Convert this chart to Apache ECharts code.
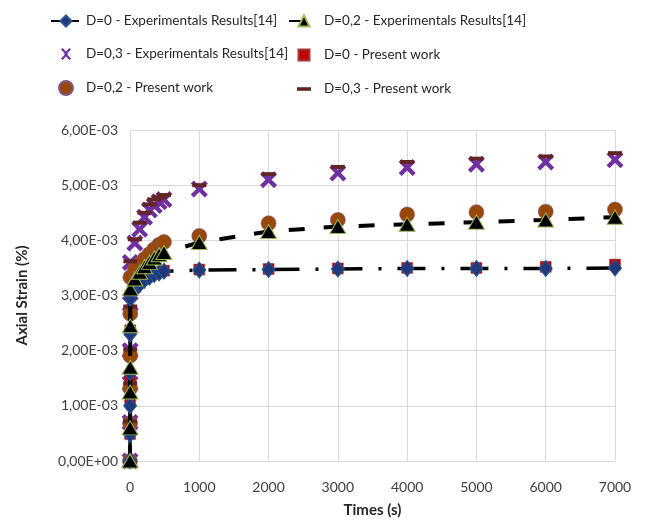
<!DOCTYPE html>
<html>
<head>
<meta charset="utf-8">
<script src="https://cdn.jsdelivr.net/npm/echarts@6/dist/echarts.min.js"></script>
<style>
  html, body { margin: 0; padding: 0; background: #fff; }
  #chart { width: 646px; height: 523px; }
</style>
</head>
<body>
<div id="chart"></div>
<script>
// times (s) and axial strain values
const timesD0Exp = [0, 1, 2, 3, 4, 5, 70, 140, 210, 280, 350, 420, 490, 1000, 2000, 3000, 4000, 5000, 6000, 7000]
const strainD0Exp = [0, 0.00048, 0.001, 0.0016, 0.0023, 0.00295, 0.0031, 0.0032, 0.00328, 0.00333, 0.00338, 0.00341, 0.00344, 0.00346, 0.00347, 0.00348, 0.00349, 0.00349, 0.00349, 0.0035]

const timesD02Exp = [0, 1, 2, 3, 4, 5, 70, 140, 210, 280, 350, 420, 490, 1000, 2000, 3000, 4000, 5000, 6000, 7000]
const strainD02Exp = [0, 0.0006, 0.00125, 0.0017, 0.00245, 0.00312, 0.0033, 0.00342, 0.00352, 0.0036, 0.00368, 0.00374, 0.00378, 0.00396, 0.00416, 0.00425, 0.00429, 0.00433, 0.00437, 0.00442]

const timesD03Exp = [0, 1, 2, 3, 4, 5, 70, 140, 210, 280, 350, 420, 490, 1000, 2000, 3000, 4000, 5000, 6000, 7000]
const strainD03Exp = [0, 0.0007, 0.0014, 0.002, 0.00285, 0.0036, 0.00395, 0.0042, 0.00442, 0.00455, 0.00463, 0.0047, 0.00474, 0.00493, 0.0051, 0.00522, 0.00532, 0.00538, 0.00542, 0.00546]

const timesD0Pres = [0, 1, 2, 3, 4, 5, 70, 140, 210, 280, 350, 420, 490, 1000, 2000, 3000, 4000, 5000, 6000, 7000]
const strainD0Pres = [0, 0.00049, 0.0011, 0.00155, 0.00237, 0.003, 0.00315, 0.00323, 0.0033, 0.00335, 0.0034, 0.00343, 0.00345, 0.00347, 0.00348, 0.00349, 0.0035, 0.0035, 0.00352, 0.00356]

const timesD02Pres = [0, 1, 2, 3, 4, 5, 70, 140, 210, 280, 350, 420, 490, 1000, 2000, 3000, 4000, 5000, 6000, 7000]
const strainD02Pres = [0, 0.00068, 0.00132, 0.00191, 0.00267, 0.00333, 0.00348, 0.00357, 0.00366, 0.00375, 0.00384, 0.00392, 0.00397, 0.00408, 0.00431, 0.00437, 0.00447, 0.00451, 0.00452, 0.00456]

const timesD03Pres = [0, 1, 2, 3, 4, 5, 70, 140, 210, 280, 350, 420, 490, 1000, 2000, 3000, 4000, 5000, 6000, 7000]
const strainD03Pres = [0, 0.00072, 0.00141, 0.00202, 0.0028, 0.00362, 0.00402, 0.00432, 0.0045, 0.00465, 0.00474, 0.00478, 0.00482, 0.005, 0.0052, 0.00533, 0.00542, 0.00548, 0.00552, 0.00558]

const seriesNames = [
  'D=0 - Experimentals Results[14]',
  'D=0,2 - Experimentals Results[14]',
  'D=0,3 - Experimentals Results[14]',
  'D=0 - Present work',
  'D=0,2 - Present work',
  'D=0,3 - Present work'
]

const pair = (xs, ys) => xs.map((x, i) => [x, ys[i]])

const FONT = 'Lato'
const crossPath = 'path://M0,1.8L1.8,0L5,3.2L8.2,0L10,1.8L6.8,5L10,8.2L8.2,10L5,6.8L1.8,10L0,8.2L3.2,5Z'
// legend icons padded to the 30x14 box so they keep their size
const squareIcon = 'path://M0,0M30,14M9.5,1.5H20.5V12.5H9.5Z'
const dashIcon = 'path://M0,0M30,14M8,5.2H22V8.8H8Z'
const crossIcon = 'path://M0,0M30,14M10,2.6L11.6,1L15,4.4L18.4,1L20,2.6L16.6,6L16.6,8L20,11.4L18.4,13L15,9.6L11.6,13L10,11.4L13.4,8L13.4,6Z'

const fmtSci = v => {
  if (v === 0) return '0,00E+00'
  const e = Math.floor(Math.log10(v) + 1e-9)
  const m = v / Math.pow(10, e)
  const ea = Math.abs(e)
  return m.toFixed(2).replace('.', ',') + 'E' + (e < 0 ? '-' : '+') + (ea < 10 ? '0' : '') + ea
}

const chart = echarts.init(document.getElementById('chart'))

const legendBase = {
  orient: 'vertical',
  top: 9,
  itemWidth: 30,
  itemHeight: 14,
  itemGap: 19,
  textStyle: { fontFamily: FONT, fontSize: 13.5, color: '#262626' }
}

chart.setOption({
  animation: false,
  backgroundColor: '#fff',
  legend: [
    Object.assign({}, legendBase, {
      left: 45,
      data: [
        seriesNames[0],
        { name: seriesNames[2], icon: crossIcon },
        seriesNames[4]
      ]
    }),
    Object.assign({}, legendBase, {
      left: 283,
      data: [
        seriesNames[1],
        { name: seriesNames[3], icon: squareIcon },
        { name: seriesNames[5], icon: dashIcon }
      ]
    })
  ],
  grid: { left: 130, right: 31, top: 130, bottom: 60 },
  xAxis: {
    type: 'value',
    min: 0,
    max: 7000,
    interval: 1000,
    name: 'Times (s)',
    nameLocation: 'middle',
    nameGap: 42,
    nameTextStyle: { fontFamily: FONT, fontSize: 15, fontWeight: 'bold', color: '#262626' },
    axisLine: { show: false },
    axisTick: { show: false },
    axisLabel: { fontFamily: FONT, fontSize: 14, color: '#404040', margin: 19, formatter: v => String(v) },
    splitLine: { show: true, lineStyle: { color: '#d9d9d9', width: 1 } }
  },
  yAxis: {
    type: 'value',
    min: 0,
    max: 0.006,
    interval: 0.001,
    name: 'Axial Strain (%)',
    nameLocation: 'middle',
    nameGap: 100,
    nameTextStyle: { fontFamily: FONT, fontSize: 15, fontWeight: 'bold', color: '#262626' },
    axisLine: { show: false },
    axisTick: { show: false },
    axisLabel: { fontFamily: FONT, fontSize: 14, color: '#404040', margin: 12, formatter: fmtSci },
    splitLine: { show: true, lineStyle: { color: '#d9d9d9', width: 1 } }
  },
  series: [
    {
      name: seriesNames[0],
      type: 'line',
      data: pair(timesD0Exp, strainD0Exp),
      symbol: 'diamond',
      symbolSize: [13, 16],
      showAllSymbol: true,
      lineStyle: { color: '#000', width: 3.5, type: [28, 16, 3, 16] },
      itemStyle: { color: '#1f3a7a', borderColor: '#2f5597', borderWidth: 1 }
    },
    {
      name: seriesNames[1],
      type: 'line',
      data: pair(timesD02Exp, strainD02Exp),
      symbol: 'triangle',
      symbolSize: [16, 14],
      showAllSymbol: true,
      lineStyle: { color: '#000', width: 4, type: [16, 19] },
      itemStyle: { color: '#000', borderColor: '#9bbb59', borderWidth: 1 }
    },
    {
      name: seriesNames[2],
      type: 'scatter',
      data: pair(timesD03Exp, strainD03Exp),
      symbol: crossPath,
      symbolSize: 17,
      itemStyle: { color: '#7030a0', opacity: 1 }
    },
    {
      name: seriesNames[3],
      type: 'scatter',
      data: pair(timesD0Pres, strainD0Pres),
      symbol: 'rect',
      symbolSize: 11,
      itemStyle: { color: '#c00000', borderColor: '#a23a3a', borderWidth: 0.5, opacity: 1 }
    },
    {
      name: seriesNames[4],
      type: 'scatter',
      data: pair(timesD02Pres, strainD02Pres),
      symbol: 'circle',
      symbolSize: 15,
      itemStyle: { color: '#984807', borderColor: '#7e5a8a', borderWidth: 0.6, opacity: 1 }
    },
    {
      name: seriesNames[5],
      type: 'scatter',
      data: pair(timesD03Pres, strainD03Pres),
      symbol: 'rect',
      symbolSize: [14, 4],
      itemStyle: { color: '#632523', opacity: 1 }
    }
  ]
})

window.addEventListener('resize', () => chart.resize())
</script>
</body>
</html>
